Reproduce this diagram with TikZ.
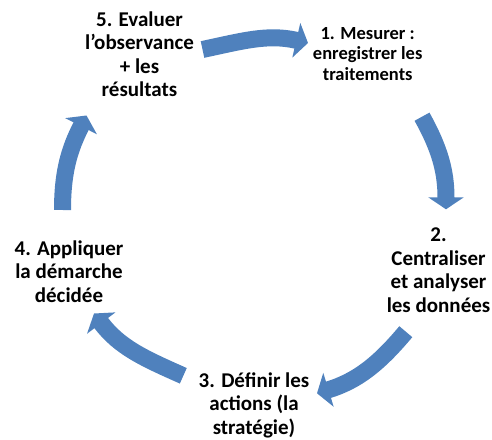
\documentclass[tikz,border=0pt]{standalone}
\usepackage{fontspec}
\setmainfont{Carlito}
\usetikzlibrary{arrows.meta}
\definecolor{cycleblue}{RGB}{79,129,189}
\tikzset{
    stage/.style={align=center, inner sep=0pt, text=black,
        font=\bfseries\fontsize{21}{23.5}\selectfont},
    cyc/.style={draw=cycleblue, line width=17pt,
        -{Triangle[width=35pt,length=12pt]}},
}

\begin{document}
\begin{tikzpicture}[x=1pt,y=1pt]
\useasboundingbox (0,0) rectangle (492,439);
\node[stage, font=\bfseries\fontsize{18.5}{20.5}\selectfont] (n1) at (367.7,385) {1. Mesurer :\\enregistrer les\\traitements};
\node[stage] (n2) at (438.5,169) {2.\\Centraliser\\et analyser\\les données};
\node[stage] (n3) at (254,34) {3. Définir les\\actions (la\\stratégie)};
\node[stage] (n4) at (69,167.5) {4. Appliquer\\la démarche\\décidée};
\node[stage] (n5) at (139.5,385) {5. Evaluer\\l’observance\\+ les\\résultats};
\coordinate (t51) at (202.5,389.5);
\coordinate (h51) at (308,396);
\coordinate (t12) at (422,322.3);
\coordinate (h12) at (446,229.7);
\coordinate (t23) at (405.8,107.3);
\coordinate (h23) at (317,45.7);
\coordinate (t34) at (183.3,63.2);
\coordinate (h34) at (94,125.5);
\coordinate (t45) at (62.5,229);
\coordinate (h45) at (86.5,323.5);
\draw[cyc] (t51) to[out=12,in=167] (h51);
\draw[cyc] (t12) to[out=-61,in=90] (h12);
\draw[cyc] (t23) to[out=-130,in=17] (h23);
\draw[cyc] (t34) to[out=156,in=-53] (h34);
\draw[cyc] (t45) to[out=90,in=-117] (h45);
\end{tikzpicture}
\end{document}
